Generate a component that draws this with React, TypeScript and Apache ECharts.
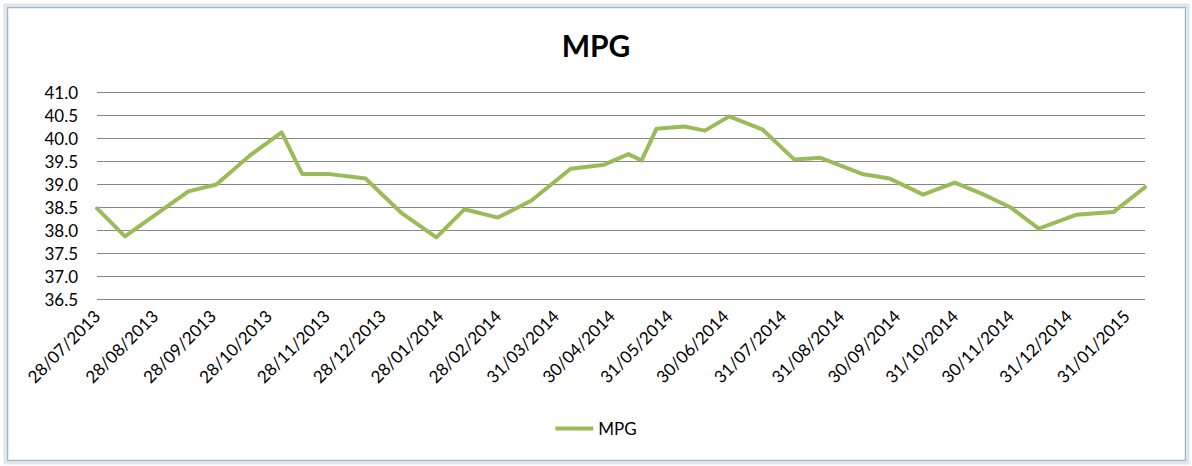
import React, { useEffect, useRef } from "react";
import * as echarts from "echarts";

const dates: string[] = [
  "2013-07-28", "2013-08-12", "2013-09-15", "2013-09-30", "2013-10-18",
  "2013-11-04", "2013-11-15", "2013-11-29", "2013-12-19", "2014-01-07",
  "2014-01-26", "2014-02-10", "2014-02-28", "2014-03-18", "2014-04-08",
  "2014-04-26", "2014-05-09", "2014-05-16", "2014-05-24", "2014-06-08",
  "2014-06-19", "2014-07-02", "2014-07-20", "2014-08-06", "2014-08-20",
  "2014-09-12", "2014-09-26", "2014-10-14", "2014-10-31", "2014-11-15",
  "2014-11-30", "2014-12-15", "2015-01-04", "2015-01-24", "2015-02-10",
];

const mpg: number[] = [
  38.47, 37.86, 38.84, 38.99, 39.62,
  40.12, 39.22, 39.22, 39.12, 38.38,
  37.84, 38.45, 38.27, 38.64, 39.33,
  39.42, 39.65, 39.51, 40.2, 40.25,
  40.16, 40.47, 40.18, 39.53, 39.57,
  39.21, 39.12, 38.77, 39.03, 38.78,
  38.49, 38.03, 38.33, 38.39, 38.93,
];

const tickDates: string[] = [
  "2013-07-28", "2013-08-28", "2013-09-28", "2013-10-28", "2013-11-28",
  "2013-12-28", "2014-01-28", "2014-02-28", "2014-03-31", "2014-04-30",
  "2014-05-31", "2014-06-30", "2014-07-31", "2014-08-31", "2014-09-30",
  "2014-10-31", "2014-11-30", "2014-12-31", "2015-01-31",
];

const axisStart = "2013-07-28";
const axisEnd = "2015-02-10";
const yMin = 36.5;
const yMax = 41.0;
const yStep = 0.5;

const DAY = 86400000;
// day number (UTC based) so no DST effects
const dayNum = (s: string) => {
  const [y, m, d] = s.split("-").map(Number);
  return Math.round(Date.UTC(y, m - 1, d) / DAY);
};
const pad = (n: number) => (n < 10 ? "0" + n : "" + n);
const fmtDay = (v: number) => {
  const d = new Date(Math.round(v) * DAY);
  return pad(d.getUTCDate()) + "/" + pad(d.getUTCMonth() + 1) + "/" + d.getUTCFullYear();
};

const FONT = "Lato, 'Open Sans', sans-serif";

export default function App() {
  const ref = useRef<HTMLDivElement>(null);
  useEffect(() => {
    if (!ref.current) return;
    const chart = echarts.init(ref.current, undefined, { renderer: "svg" });
    chart.setOption({
      animation: false,
      backgroundColor: "#ffffff",
      title: {
        text: "MPG",
        left: "center",
        top: 25,
        textStyle: { fontFamily: FONT, fontSize: 30, fontWeight: "bold", color: "#000" },
      },
      legend: {
        data: ["MPG"],
        left: "center",
        top: 415,
        icon: "rect",
        itemWidth: 38,
        itemHeight: 4,
        itemGap: 10,
        textStyle: { fontFamily: FONT, fontSize: 17, color: "#000" },
      },
      grid: {
        left: 97,
        right: 47,
        top: 92,
        bottom: 167,
        containLabel: false,
        outerBoundsMode: "none",
      },
      xAxis: {
        type: "value",
        min: dayNum(axisStart),
        max: dayNum(axisEnd),
        axisLine: { show: false },
        axisTick: { show: false },
        splitLine: { show: false },
        axisLabel: {
          customValues: tickDates.map(dayNum),
          formatter: (v: number) => fmtDay(v),
          rotate: 45,
          margin: 14,
          fontFamily: FONT,
          fontSize: 17,
          color: "#000",
          showMinLabel: true,
          showMaxLabel: true,
          hideOverlap: false,
        },
      },
      yAxis: {
        type: "value",
        min: yMin,
        max: yMax,
        interval: yStep,
        axisLine: { show: false },
        axisTick: { show: false },
        splitLine: { show: true, lineStyle: { color: "#868686", width: 1 } },
        axisLabel: {
          formatter: (v: number) => v.toFixed(1),
          margin: 19,
          fontFamily: FONT,
          fontSize: 17,
          color: "#000",
        },
      },
      series: [
        {
          name: "MPG",
          type: "line",
          symbol: "none",
          data: dates.map((d, i) => [dayNum(d), mpg[i]]),
          lineStyle: { color: "#9BBB59", width: 4, join: "round", cap: "round" },
          itemStyle: { color: "#9BBB59" },
        },
      ],
      graphic: [
        {
          type: "rect",
          shape: { x: 5, y: 5, width: 1183, height: 458 },
          style: { fill: "none", stroke: "#DCE7ED", lineWidth: 3 },
          silent: true,
        },
        {
          type: "rect",
          shape: { x: 7.5, y: 7.5, width: 1178, height: 453 },
          style: { fill: "none", stroke: "#A3B6C2", lineWidth: 1.5 },
          silent: true,
        },
      ],
    });
    return () => chart.dispose();
  }, []);
  return (
    <div
      ref={ref}
      style={{ position: "absolute", left: 0, top: 0, width: 1192, height: 466 }}
    />
  );
}
